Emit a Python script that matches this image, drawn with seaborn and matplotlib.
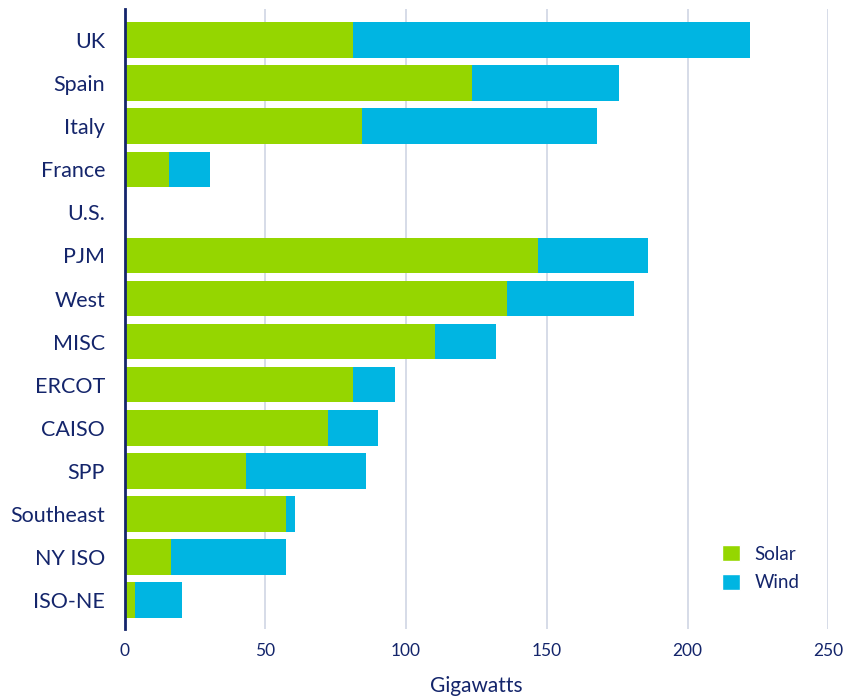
import matplotlib
matplotlib.use("Agg")
import matplotlib.pyplot as plt
import seaborn as sns
import pandas as pd
from matplotlib.patches import Patch

# data (gigawatts)
regions = ["UK", "Spain", "Italy", "France", "U.S.", "PJM", "West", "MISC",
           "ERCOT", "CAISO", "SPP", "Southeast", "NY ISO", "ISO-NE"]
solar = [81.0, 123.3, 84.4, 15.8, 0, 147.0, 135.8, 110.3,
         81.0, 72.1, 43.2, 57.4, 16.5, 3.7]
wind = [141.0, 52.4, 83.3, 14.6, 0, 39.0, 45.3, 21.7,
        14.9, 17.8, 42.6, 3.1, 40.8, 16.7]

df = pd.DataFrame({"region": regions, "Solar": solar, "Wind": wind})
df["total"] = df["Solar"] + df["Wind"]

GREEN = "#95d600"
BLUE = "#00b5e2"
NAVY = "#14256b"
GRID = "#d3d9e6"

sns.set_style("white")
plt.rcParams["font.family"] = ["Lato", "DejaVu Sans"]

fig = plt.figure(figsize=(8.43, 7.0), dpi=100)
ax = fig.add_axes([0.1477, 0.101, 0.835, 0.886])

sns.barplot(data=df, x="total", y="region", color=BLUE, width=0.825,
            saturation=1, linewidth=0, ax=ax, orient="h")
sns.barplot(data=df, x="Solar", y="region", color=GREEN, width=0.825,
            saturation=1, linewidth=0, ax=ax, orient="h")

ax.set_xlim(0, 250)
ax.set_ylim(13.68, -0.72)
ax.set_xticks([0, 50, 100, 150, 200, 250])
ax.xaxis.grid(True, color=GRID, linewidth=1.3)
ax.set_axisbelow(True)
for s in ["top", "right", "bottom"]:
    ax.spines[s].set_visible(False)
ax.spines["left"].set_color(NAVY)
ax.spines["left"].set_linewidth(2)
ax.spines["left"].set_zorder(5)

ax.tick_params(axis="y", length=0, pad=14, labelsize=15.5, labelcolor=NAVY)
ax.tick_params(axis="x", length=0, pad=10, labelsize=12.5, labelcolor=NAVY)
ax.set_ylabel("")
ax.set_xlabel("Gigawatts", fontsize=15, color=NAVY, labelpad=12)

handles = [Patch(facecolor=GREEN, label="Solar"), Patch(facecolor=BLUE, label="Wind")]
ax.legend(handles=handles, loc="lower left", bbox_to_anchor=(0.836, 0.046),
          borderpad=0, frameon=False, fontsize=13.5, labelcolor=NAVY,
          handlelength=0.95, handleheight=0.95, handletextpad=0.75,
          labelspacing=0.6)

fig.savefig("out.png", dpi=100)
